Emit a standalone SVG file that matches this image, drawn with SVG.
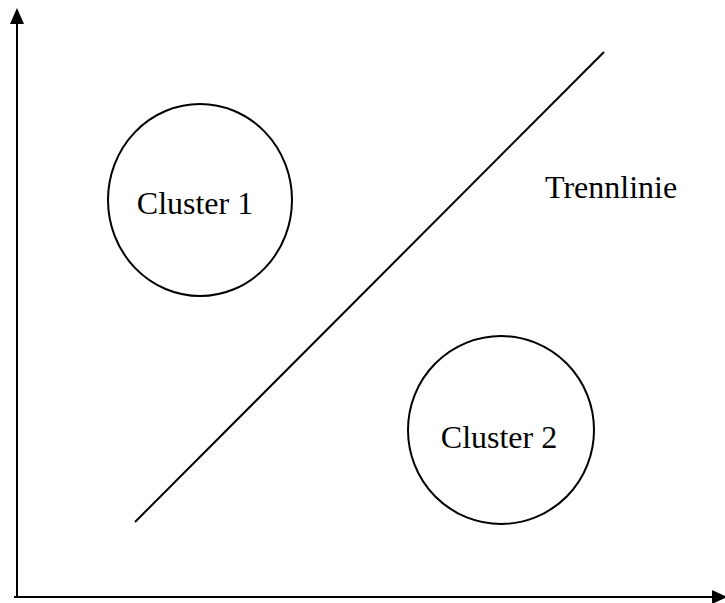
<svg xmlns="http://www.w3.org/2000/svg" width="725" height="603" viewBox="0 0 725 603">
<style>
.ln{stroke:#000;stroke-width:2;fill:none}
.c{stroke:#000;stroke-width:2;fill:none}
.t{font-family:"Liberation Serif",serif;font-size:32px;fill:#000}
</style>
<rect width="725" height="603" fill="#fff"/>
<g id="connectors">
<line class="ln" x1="17" y1="22" x2="17" y2="598"/>
<polygon points="17,8 10,24 24,24" fill="#000"/>
<line class="ln" x1="14" y1="597" x2="715" y2="597"/>
<polygon points="727,597 712,590 712,604" fill="#000"/>
<line class="ln" stroke-width="1.5" x1="135" y1="522" x2="604" y2="52"/>
</g>
<g id="cluster1">
<ellipse class="c" cx="200" cy="200" rx="92" ry="96"/>
<text class="t" x="195" y="214" text-anchor="middle">Cluster 1</text>
</g>
<g id="cluster2">
<ellipse class="c" cx="501" cy="430" rx="93" ry="94"/>
<text class="t" x="499" y="448" text-anchor="middle">Cluster 2</text>
</g>
<g id="trennlinie">
<text class="t" x="545" y="198">Trennlinie</text>
</g>
</svg>
